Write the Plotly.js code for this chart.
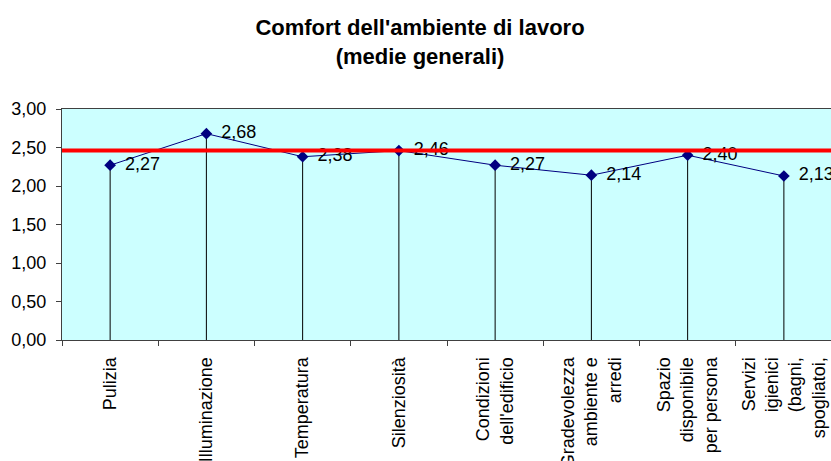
<!DOCTYPE html>
<html>
<head>
<meta charset="utf-8">
<script src="https://cdn.plot.ly/plotly-3.0.1.min.js"></script>
<style>html,body{margin:0;padding:0;overflow:hidden;background:#fff}</style>
</head>
<body>
<div id="chart"></div>
<script>
const categories = [
  "Pulizia",
  "Illuminazione",
  "Temperatura",
  "Silenziosità",
  "Condizioni<br>dell'edificio",
  "Gradevolezza<br>ambiente e<br>arredi",
  "Spazio<br>disponibile<br>per persona",
  "Servizi<br>igienici<br>(bagni,<br>spogliatoi,"
];
const values = [2.27, 2.68, 2.38, 2.46, 2.27, 2.14, 2.40, 2.13];
const labels = ["2,27", "2,68", "2,38", "2,46", "2,27", "2,14", "2,40", "2,13"];
const reference = 2.46;
const yTicks = [0, 0.5, 1, 1.5, 2, 2.5, 3];

const font = "Liberation Sans, Arial, sans-serif";

// drop lines from each point to zero
const dropX = [], dropY = [];
categories.forEach((c, i) => { dropX.push(c, c, null); dropY.push(0, values[i], null); });

const traces = [
  {x: dropX, y: dropY, mode: 'lines', line: {color: '#000000', width: 1}, hoverinfo: 'skip', showlegend: false},
  {x: categories, y: values, mode: 'lines+markers', line: {color: '#000080', width: 1},
   marker: {symbol: 'diamond', size: 9, color: '#000080'}, showlegend: false},
  {x: [0, 1], y: [reference, reference], xaxis: 'x2', mode: 'lines',
   line: {color: '#FF0000', width: 4}, hoverinfo: 'skip', showlegend: false},
  {x: categories, y: values, mode: 'markers+text', text: labels, textposition: 'middle right',
   marker: {size: 22, opacity: 0}, textfont: {family: font, size: 18, color: '#000'},
   showlegend: false, cliponaxis: false}
];

const layout = {
  width: 832, height: 461,
  margin: {l: 62, r: 0, t: 109, b: 121},
  paper_bgcolor: '#FFFFFF',
  plot_bgcolor: '#CCFFFF',
  separators: ',.',
  font: {family: font, size: 18, color: '#000'},
  title: {text: "<b>Comfort dell'ambiente di lavoro<br>(medie generali)</b>",
          font: {family: font, size: 22, color: '#000'},
          x: 420/832, xanchor: 'center', y: 1 - 35/461, yanchor: 'top'},
  xaxis: {type: 'category', range: [-0.5, 7.5], tickson: 'boundaries', ticks: 'outside', ticklen: 5,
          tickcolor: '#404040', showline: true, linecolor: '#404040', linewidth: 1,
          mirror: true, showgrid: false, tickangle: -90, ticklabelstandoff: 9,
          tickfont: {family: font, size: 18, color: '#000'}, fixedrange: true},
  xaxis2: {overlaying: 'x', range: [0, 1], visible: false, fixedrange: true},
  yaxis: {range: [0, 3], tickvals: yTicks, tickformat: '.2f', ticks: 'outside', ticklen: 5,
          tickcolor: '#404040', showline: true, linecolor: '#404040', linewidth: 1,
          showgrid: false, zeroline: false, ticklabelstandoff: 6,
          tickfont: {family: font, size: 18, color: '#000'}, fixedrange: true},
  showlegend: false
};

Plotly.newPlot('chart', traces, layout, {displayModeBar: false, staticPlot: true});
</script>
</body>
</html>
